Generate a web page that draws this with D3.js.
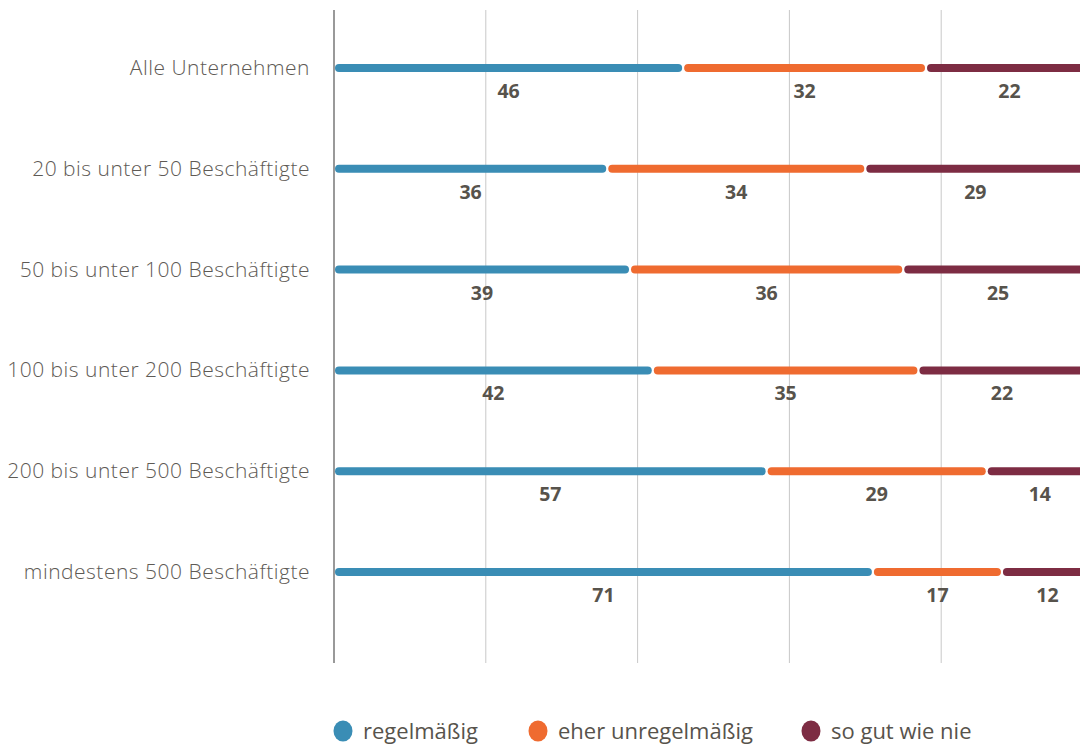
<!DOCTYPE html>
<html><head><meta charset="utf-8">
<script src="https://cdn.jsdelivr.net/npm/d3@7"></script>
<style>body{margin:0;background:#fff;overflow:hidden}</style>
</head><body>
<svg id="c" width="1080" height="744"></svg>
<script>
const categories = ["Alle Unternehmen","20 bis unter 50 Beschäftigte","50 bis unter 100 Beschäftigte","100 bis unter 200 Beschäftigte","200 bis unter 500 Beschäftigte","mindestens 500 Beschäftigte"];
const seriesNames = ["regelmäßig","eher unregelmäßig","so gut wie nie"];
const regelmaessig = [46,36,39,42,57,71];
const eherUnregelmaessig = [32,34,36,35,29,17];
const soGutWieNie = [22,29,25,22,14,12];
const colors = ["#3a8db5","#ef6b30","#7d2c43"];
const gridTicks = [20,40,60,80];

const svg = d3.select("#c");
const x = d3.scaleLinear().domain([0,100]).range([334,1093]);
const y = d3.scalePoint().domain(categories).range([68,572]);
const textCol = "#57534c";

// grid
svg.selectAll("line.grid").data(gridTicks).join("line")
  .attr("x1",d=>x(d)).attr("x2",d=>x(d)).attr("y1",10).attr("y2",663)
  .attr("stroke","#c8c8c8").attr("stroke-width",1);
svg.append("line").attr("x1",x(0)).attr("x2",x(0)).attr("y1",10).attr("y2",663)
  .attr("stroke","#777").attr("stroke-width",1.5);

const allSeries = [regelmaessig, eherUnregelmaessig, soGutWieNie];
const segs = [];
categories.forEach((c,i)=>{
  let s=0;
  allSeries.forEach((arr,k)=>{
    segs.push({c, k, v:arr[i], x0:s, x1:s+arr[i]});
    s+=arr[i];
  });
});

svg.selectAll("rect.seg").data(segs).join("rect")
  .attr("x",d=>x(d.x0)+1).attr("width",d=>x(d.x1)-x(d.x0)-2)
  .attr("y",d=>y(d.c)-4).attr("height",8).attr("rx",4)
  .attr("fill",d=>colors[d.k]);

svg.selectAll("text.val").data(segs).join("text")
  .attr("x",d=>x((d.x0+d.x1)/2)).attr("y",d=>y(d.c)+30)
  .attr("text-anchor","middle").attr("font-family","'Open Sans', sans-serif")
  .attr("font-weight",700).attr("font-size",19.5).attr("fill",textCol)
  .text(d=>d.v);

svg.selectAll("text.cat").data(categories).join("text")
  .attr("x",310).attr("y",d=>y(d)+7).attr("text-anchor","end")
  .attr("font-family","'Open Sans', sans-serif").attr("font-weight",300)
  .attr("font-size",21).attr("letter-spacing",0.5).attr("fill","#5e5a55").text(d=>d);

// legend
const legX = [343,538,811];
const lg = svg.selectAll("g.leg").data(seriesNames).join("g")
  .attr("transform",(d,i)=>`translate(${legX[i]},731)`);
lg.append("ellipse").attr("rx",9.5).attr("ry",10.5).attr("fill",(d,i)=>colors[i]);
lg.append("text").attr("x",20).attr("y",7.5).attr("font-family","'Open Sans', sans-serif")
  .attr("font-size",22).attr("fill",textCol).text(d=>d);
</script>
</body></html>
